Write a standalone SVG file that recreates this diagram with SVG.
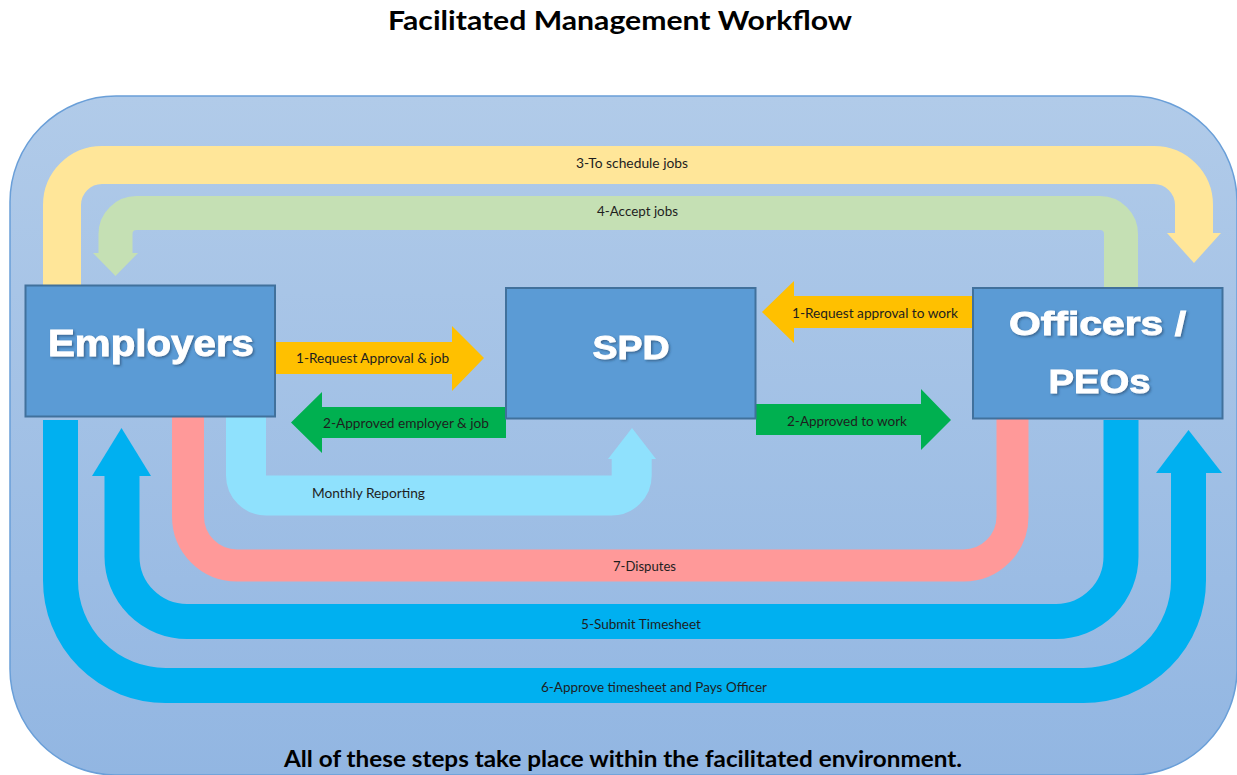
<svg xmlns="http://www.w3.org/2000/svg" width="1237" height="775" viewBox="0 0 1237 775">
<defs>
<linearGradient id="bg" x1="0" y1="0" x2="0" y2="1">
<stop offset="0" stop-color="#b1cbe9"/>
<stop offset="1" stop-color="#92b6e2"/>
</linearGradient>
<filter id="sh" x="-10%" y="-20%" width="120%" height="140%">
<feDropShadow dx="1.5" dy="1.5" stdDeviation="1" flood-color="#1f3a5a" flood-opacity="0.55"/>
</filter>
</defs>
<style>
.band{fill:none;stroke-linecap:butt;stroke-linejoin:round}
.node rect{fill:#5b9bd5;stroke:#41719c;stroke-width:2}
.ntext{font-family:"Liberation Sans",Arial,sans-serif;font-weight:bold;fill:#ffffff;stroke:#ffffff;stroke-width:0.9;text-anchor:middle;filter:url(#sh)}
.lbl{font-family:Lato,"Open Sans",sans-serif;font-size:13px;fill:#1e1e1e}
.title{font-family:Lato,"Open Sans",sans-serif;font-weight:bold;fill:#000000}
</style>
<rect width="1237" height="775" fill="#ffffff"/>
<text class="title" x="388" y="30" font-size="27" textLength="464" lengthAdjust="spacingAndGlyphs">Facilitated Management Workflow</text>
<rect x="10" y="96" width="1227" height="679" rx="106" ry="106" fill="url(#bg)" stroke="#6a9fd8" stroke-width="1.5"/>

<g id="connectors">
<!-- 3-To schedule jobs -->
<g id="c3">
<path class="band" stroke="#ffe699" stroke-width="38" d="M62,287 V205 A40,40 0 0 1 102,165 H1154 A40,40 0 0 1 1194,205 V234"/>
<polygon fill="#ffe699" points="1167,233 1221,233 1194,263"/>
<text class="lbl" x="576" y="168" textLength="112" lengthAdjust="spacingAndGlyphs">3-To schedule jobs</text>
</g>
<!-- 4-Accept jobs -->
<g id="c4">
<path class="band" stroke="#c5e0b4" stroke-width="34" d="M1121,289 V234 A21,21 0 0 0 1100,213 H136.5 A21,21 0 0 0 115.5,234 V254"/>
<polygon fill="#c5e0b4" points="93,253 138,253 115.5,276"/>
<text class="lbl" x="597" y="216" textLength="81" lengthAdjust="spacingAndGlyphs">4-Accept jobs</text>
</g>
<!-- Monthly Reporting -->
<g id="cm">
<path class="band" stroke="#8fe1fd" stroke-width="40" d="M246,414 V475.5 A20,20 0 0 0 266,495.5 H611.7 A20,20 0 0 0 631.7,475.5 V458"/>
<polygon fill="#8fe1fd" points="608,459 656,459 632,428"/>
<text class="lbl" x="312" y="498" textLength="113" lengthAdjust="spacingAndGlyphs">Monthly Reporting</text>
</g>
<!-- 7-Disputes -->
<g id="c7">
<path class="band" stroke="#ff9999" stroke-width="32" d="M188,414 V516.5 A49,49 0 0 0 237,565.5 H963.5 A49,49 0 0 0 1012.5,516.5 V416"/>
<text class="lbl" x="613" y="570.5" textLength="63" lengthAdjust="spacingAndGlyphs">7-Disputes</text>
</g>
<!-- 5-Submit Timesheet -->
<g id="c5">
<path class="band" stroke="#00b0f0" stroke-width="35" d="M1121,420 V556.5 A65,65 0 0 1 1056,621.5 H187 A65,65 0 0 1 122,556.5 V475"/>
<polygon fill="#00b0f0" points="92,476 151,476 121.5,428"/>
<text class="lbl" x="581" y="628.5" textLength="120" lengthAdjust="spacingAndGlyphs">5-Submit Timesheet</text>
</g>
<!-- 6-Approve timesheet and Pays Officer -->
<g id="c6">
<path class="band" stroke="#00b0f0" stroke-width="35" d="M60.5,420 V580.5 A105,105 0 0 0 165.5,685.5 H1083.5 A105,105 0 0 0 1188.5,580.5 V472"/>
<polygon fill="#00b0f0" points="1156,473 1222,473 1188.5,430"/>
<text class="lbl" x="541" y="691.5" textLength="226" lengthAdjust="spacingAndGlyphs">6-Approve timesheet and Pays Officer</text>
</g>
<!-- 1-Request Approval & job -->
<g id="c1a">
<polygon fill="#ffc000" points="275,342 452,342 452,326 484,358 452,391 452,374 275,374"/>
<text class="lbl" x="296" y="363" textLength="153" lengthAdjust="spacingAndGlyphs">1-Request Approval &amp; job</text>
</g>
<!-- 2-Approved employer & job -->
<g id="c2a">
<polygon fill="#00b050" points="506,407 322,407 322,392 291,422.5 322,453 322,438 506,438"/>
<text class="lbl" x="323" y="428" textLength="166" lengthAdjust="spacingAndGlyphs">2-Approved employer &amp; job</text>
</g>
<!-- 1-Request approval to work -->
<g id="c1b">
<polygon fill="#ffc000" points="973,296 794,296 794,281 762,312 794,343 794,328 973,328"/>
<text class="lbl" x="792" y="318" textLength="166" lengthAdjust="spacingAndGlyphs">1-Request approval to work</text>
</g>
<!-- 2-Approved to work -->
<g id="c2b">
<polygon fill="#00b050" points="756,404 921,404 921,389 951,420 921,450 921,435 756,435"/>
<text class="lbl" x="787" y="426" textLength="120" lengthAdjust="spacingAndGlyphs">2-Approved to work</text>
</g>
</g>

<g id="employers" class="node">
<rect x="25.5" y="285.5" width="249.5" height="131"/>
<text class="ntext" x="151" y="356" font-size="37" textLength="206" lengthAdjust="spacingAndGlyphs">Employers</text>
</g>
<g id="spd" class="node">
<rect x="506" y="288" width="249.5" height="130.5"/>
<text class="ntext" x="631" y="358.5" font-size="34" textLength="77" lengthAdjust="spacingAndGlyphs">SPD</text>
</g>
<g id="officers" class="node">
<rect x="973" y="288" width="249.5" height="130.5"/>
<text class="ntext" x="1097.5" y="335" font-size="34" textLength="177" lengthAdjust="spacingAndGlyphs">Officers /</text>
<text class="ntext" x="1099.5" y="393" font-size="34" textLength="102" lengthAdjust="spacingAndGlyphs">PEOs</text>
</g>

<text class="title" x="284" y="766.5" font-size="23" textLength="678" lengthAdjust="spacingAndGlyphs">All of these steps take place within the facilitated environment.</text>
</svg>
